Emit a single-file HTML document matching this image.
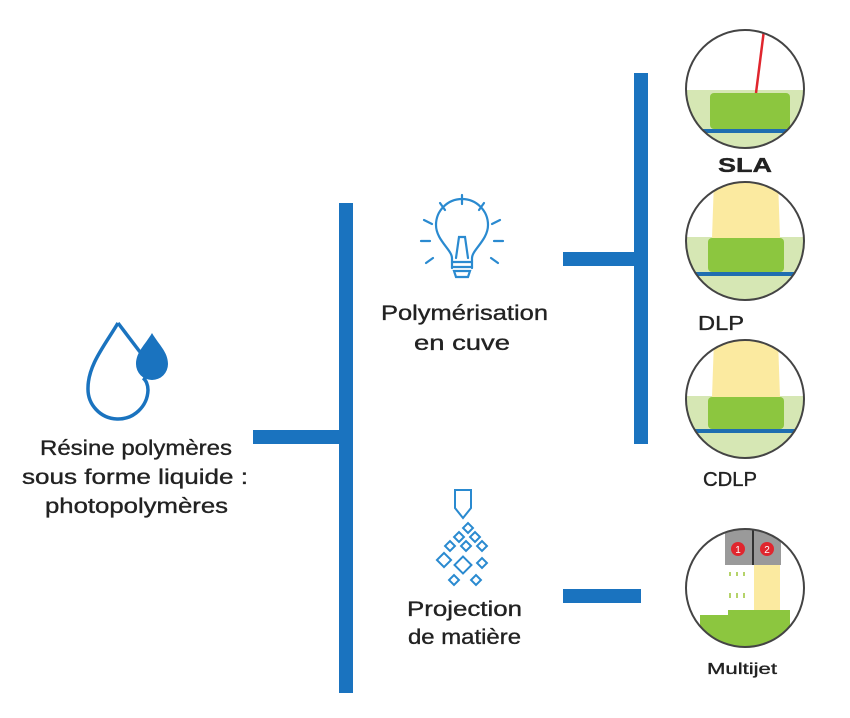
<!DOCTYPE html>
<html><head><meta charset="utf-8"><style>
html,body{margin:0;padding:0;background:#fff;}
body{width:850px;height:713px;overflow:hidden;}
text{font-family:"Liberation Sans",Arial,sans-serif;fill:#222;stroke:#222;stroke-width:0.35;}
</style></head><body>
<svg width="850" height="713" viewBox="0 0 850 713" xmlns="http://www.w3.org/2000/svg">
<defs>
<clipPath id="c1"><circle cx="745" cy="89" r="59"/></clipPath>
<clipPath id="c2"><circle cx="745" cy="241" r="59"/></clipPath>
<clipPath id="c3"><circle cx="745" cy="399" r="59"/></clipPath>
<clipPath id="c4"><circle cx="745" cy="588" r="59"/></clipPath>
</defs>
<g fill="#1a73bf">
<rect x="339" y="203" width="14" height="490"/>
<rect x="253" y="430" width="94" height="14"/>
<rect x="634" y="73" width="14" height="371"/>
<rect x="563" y="252" width="78" height="14"/>
<rect x="563" y="589" width="78" height="14"/>
</g>
<path d="M118,323 C105,345 88,365 88,388 A30,30 0 0 0 148,390 C148,385 146,380 143,378" fill="none" stroke="#1a73bf" stroke-width="3.5"/>
<path d="M118,323 L140,352" fill="none" stroke="#1a73bf" stroke-width="3.5"/>
<path d="M152,333 C145,345 136,352 136,364 A16,16 0 0 0 168,364 C168,352 159,345 152,333 Z" fill="#1a73bf"/>
<text x="40" y="455" font-size="21" textLength="192" lengthAdjust="spacingAndGlyphs">Résine polymères</text>
<text x="22" y="484" font-size="21" textLength="226" lengthAdjust="spacingAndGlyphs">sous forme liquide :</text>
<text x="45" y="513" font-size="21" textLength="183" lengthAdjust="spacingAndGlyphs">photopolymères</text>
<g fill="none" stroke="#2a8ad0" stroke-width="2.2" stroke-linecap="round">
<path d="M452,268 L452,258 C452,250 436,240 436,225 A26,26 0 1 1 488,225 C488,240 472,250 472,258 L472,268"/>
<path d="M456,258 L459,237 L465,237 L468,258"/>
<line x1="452" y1="262" x2="472" y2="262"/><line x1="452" y1="267" x2="472" y2="267"/>
<path d="M454,271 L470,271 L468,277 L456,277 Z"/>
<line x1="462" y1="195" x2="462" y2="204"/>
<line x1="440" y1="203" x2="445" y2="210"/><line x1="484" y1="203" x2="479" y2="210"/>
<line x1="424" y1="220" x2="432" y2="224"/><line x1="500" y1="220" x2="492" y2="224"/>
<line x1="421" y1="241" x2="430" y2="241"/><line x1="503" y1="241" x2="494" y2="241"/>
<line x1="426" y1="263" x2="433" y2="258"/><line x1="498" y1="263" x2="491" y2="258"/>
</g>
<text x="381" y="320" font-size="21" textLength="167" lengthAdjust="spacingAndGlyphs">Polymérisation</text>
<text x="414" y="350" font-size="21" textLength="96" lengthAdjust="spacingAndGlyphs">en cuve</text>
<g fill="none" stroke="#2a8ad0" stroke-width="2">
<path d="M455,490 L471,490 L471,508 L463,518 L455,508 Z"/>
<rect x="-3.5" y="-3.5" width="7" height="7" transform="translate(468,528) rotate(45)"/>
<rect x="-3.5" y="-3.5" width="7" height="7" transform="translate(459,537) rotate(45)"/>
<rect x="-3.5" y="-3.5" width="7" height="7" transform="translate(475,537) rotate(45)"/>
<rect x="-3.5" y="-3.5" width="7" height="7" transform="translate(450,546) rotate(45)"/>
<rect x="-3.5" y="-3.5" width="7" height="7" transform="translate(466,546) rotate(45)"/>
<rect x="-3.5" y="-3.5" width="7" height="7" transform="translate(482,546) rotate(45)"/>
<rect x="-5" y="-5" width="10" height="10" transform="translate(444,560) rotate(45)"/>
<rect x="-6" y="-6" width="12" height="12" transform="translate(463,565) rotate(45)"/>
<rect x="-3.5" y="-3.5" width="7" height="7" transform="translate(482,563) rotate(45)"/>
<rect x="-3.5" y="-3.5" width="7" height="7" transform="translate(454,580) rotate(45)"/>
<rect x="-3.5" y="-3.5" width="7" height="7" transform="translate(476,580) rotate(45)"/>
</g>
<text x="407" y="616" font-size="21" textLength="115" lengthAdjust="spacingAndGlyphs">Projection</text>
<text x="408" y="644" font-size="21" textLength="113" lengthAdjust="spacingAndGlyphs">de matière</text>
<g clip-path="url(#c1)">
<rect x="680" y="90" width="130" height="60" fill="#d6e7b4"/>
<rect x="710" y="93" width="80" height="36" rx="4" fill="#8cc63f"/>
<rect x="680" y="129" width="130" height="4" fill="#1f6eb0"/>
<line x1="756" y1="93" x2="764" y2="30" stroke="#e0262e" stroke-width="2.5"/>
</g>
<circle cx="745" cy="89" r="59" fill="none" stroke="#444" stroke-width="2"/>
<text x="718" y="172" font-size="20" font-weight="bold" textLength="54" lengthAdjust="spacingAndGlyphs">SLA</text>
<g clip-path="url(#c2)">
<rect x="680" y="237" width="130" height="70" fill="#d6e7b4"/>
<path d="M714,180 L778,180 L780,238 L712,238 Z" fill="#fbeaa0"/>
<rect x="708" y="238" width="76" height="34" rx="4" fill="#8cc63f"/>
<rect x="680" y="272" width="130" height="4" fill="#1f6eb0"/>
</g>
<circle cx="745" cy="241" r="59" fill="none" stroke="#444" stroke-width="2"/>
<text x="698" y="330" font-size="20" textLength="46" lengthAdjust="spacingAndGlyphs">DLP</text>
<g clip-path="url(#c3)">
<rect x="680" y="396" width="130" height="70" fill="#d6e7b4"/>
<path d="M714,340 L778,340 L780,397 L712,397 Z" fill="#fbeaa0"/>
<rect x="708" y="397" width="76" height="32" rx="4" fill="#8cc63f"/>
<rect x="680" y="429" width="130" height="4" fill="#1f6eb0"/>
</g>
<circle cx="745" cy="399" r="59" fill="none" stroke="#444" stroke-width="2"/>
<text x="703" y="486" font-size="20" textLength="54" lengthAdjust="spacingAndGlyphs">CDLP</text>
<g clip-path="url(#c4)">
<rect x="725" y="530" width="56" height="35" fill="#9a9a9a"/>
<line x1="753" y1="530" x2="753" y2="565" stroke="#333" stroke-width="2"/>
<circle cx="738" cy="549" r="7" fill="#e0262e"/><circle cx="767" cy="549" r="7" fill="#e0262e"/>
<rect x="754" y="565" width="26" height="48" fill="#fbeaa0"/>
<g fill="#b5d36a"><rect x="729" y="572" width="2" height="4"/><rect x="736" y="572" width="2" height="4"/><rect x="743" y="572" width="2" height="4"/>
<rect x="729" y="593" width="2" height="5"/><rect x="736" y="593" width="2" height="5"/><rect x="743" y="593" width="2" height="5"/></g>
<path d="M708,615 L728,615 L728,610 L790,610 L790,660 L700,660 L700,615 Z" fill="#8cc63f"/>
</g>
<text x="738" y="553" font-size="10" text-anchor="middle" style="fill:#fff;stroke:none">1</text>
<text x="767" y="553" font-size="10" text-anchor="middle" style="fill:#fff;stroke:none">2</text>
<circle cx="745" cy="588" r="59" fill="none" stroke="#444" stroke-width="2"/>
<text x="707" y="674" font-size="16" textLength="70" lengthAdjust="spacingAndGlyphs">Multijet</text>
</svg>
</body></html>
